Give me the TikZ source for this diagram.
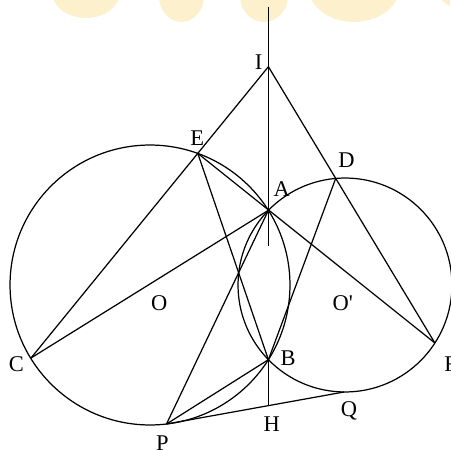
\documentclass[tikz,border=0pt]{standalone}
\usepackage{fontspec}
\setmainfont{Liberation Serif}
\definecolor{wmark}{RGB}{253,240,205}
\begin{document}
\begin{tikzpicture}[x=0.02cm,y=-0.02cm,
  geo/.style={line width=0.7pt,black},
  lbl/.style={font=\fontsize{12.8}{15}\selectfont,inner sep=0pt,anchor=base},
  wm/.style={fill=wmark,draw=none}]
\useasboundingbox (0,0) rectangle (450,450);
% watermark remnants
\begin{scope}
\clip (0,0) rectangle (450,450);
\fill[wm] (86,-8) ellipse [x radius=0.68cm, y radius=0.52cm];
\fill[wm] (181.5,-4) ellipse [x radius=0.45cm, y radius=0.52cm];
\fill[wm] (264,-4) ellipse [x radius=0.48cm, y radius=0.52cm];
\fill[wm] (354,-14) ellipse [x radius=0.92cm, y radius=0.72cm];
\fill[wm] (460,-14) ellipse [x radius=0.48cm, y radius=0.44cm];
\end{scope}
% points
\coordinate (O) at (150,285);
\coordinate (O2) at (345,285);
\coordinate (A) at (268.4,210.3);
\coordinate (B) at (268.4,359.7);
\coordinate (I) at (268.4,66.7);
\coordinate (E) at (197.8,153.4);
\coordinate (C) at (31,358);
\coordinate (D) at (335.7,178.4);
\coordinate (F) at (434.9,343.0);
\coordinate (P) at (166.5,424);
\coordinate (Q) at (344,392);
\coordinate (H) at (268.4,405.6);
\coordinate (T) at (268.4,7);
\coordinate (V) at (268.4,246);
% circles
\draw[geo] (O) circle [radius=2.8cm];
\draw[geo] (O2) circle [radius=2.14cm];
% lines
\draw[geo] (T) -- (V);
\draw[geo] (I) -- (C);
\draw[geo] (I) -- (F);
\draw[geo] (E) -- (F);
\draw[geo] (C) -- (A);
\draw[geo] (E) -- (B);
\draw[geo] (D) -- (B);
\draw[geo] (P) -- (A);
\draw[geo] (P) -- (B);
\draw[geo] (P) -- (Q);
\draw[geo] (B) -- (H);
% labels
\node[lbl] (lI) at (258.5,69) {I};
\node[lbl] (lE) at (197.3,145) {E};
\node[lbl] (lD) at (346.5,167.3) {D};
\node[lbl] (lA) at (281.7,196) {A};
\node[lbl] (lO) at (159.3,310.5) {O};
\node[lbl] (lO2) at (342.7,310.5) {O\textquotesingle};
\node[lbl] (lC) at (16.5,371.7) {C};
\node[lbl] (lB) at (288,365.7) {B};
\node[lbl,anchor=base west] (lF) at (444,371.7) {F};
\node[lbl] (lP) at (162.5,450) {P};
\node[lbl] (lH) at (271.7,431) {H};
\node[lbl] (lQ) at (349,416.5) {Q};
\end{tikzpicture}
\end{document}
